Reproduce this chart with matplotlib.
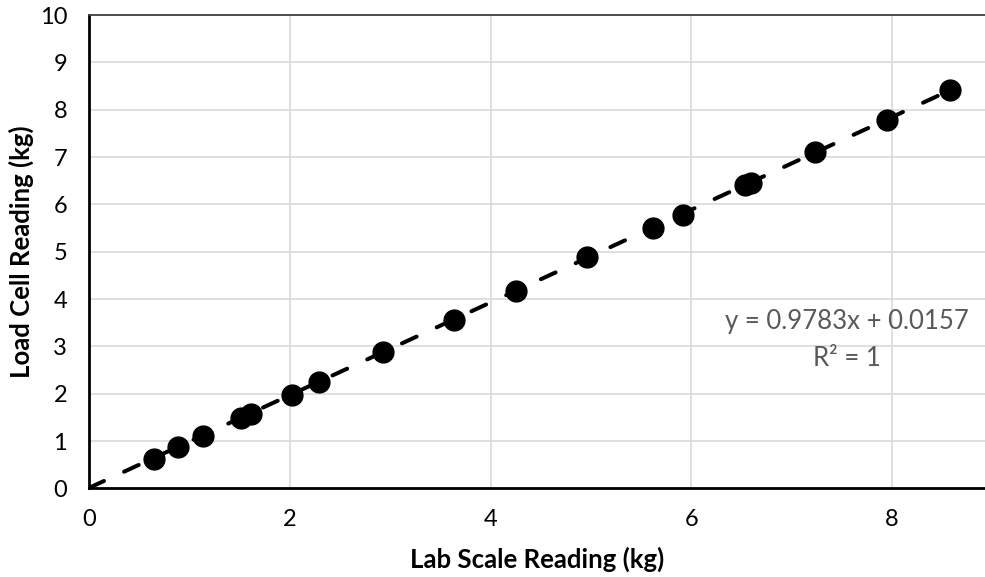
import numpy as np
import matplotlib
matplotlib.use("Agg")
import matplotlib.pyplot as plt

plt.rcParams['font.family'] = ['Lato', 'DejaVu Sans']

# lab scale vs load cell calibration readings (kg)
lab_scale = [0.64, 0.88, 1.13, 1.51, 1.61, 2.02, 2.29, 2.93, 3.64, 4.25,
             4.96, 5.62, 5.92, 6.54, 6.60, 7.24, 7.95, 8.58]
load_cell = [0.62, 0.87, 1.11, 1.49, 1.58, 1.97, 2.25, 2.88, 3.56, 4.18,
             4.88, 5.50, 5.78, 6.40, 6.46, 7.10, 7.79, 8.41]

# linear trendline
slope = 0.9783
intercept = 0.0157
r_squared = 1

x_ticks = [0, 2, 4, 6, 8]
y_ticks = list(range(0, 11))

fig = plt.figure(figsize=(9.85, 5.77), dpi=100)
ax = fig.add_axes([0.0907, 0.1534, 0.9093, 0.8206])

# trendline from 0 out to the last reading
x_fit = np.array([0, max(lab_scale)])
y_fit = slope * x_fit + intercept
ax.plot(x_fit, y_fit, color='black', linewidth=2.9, dash_capstyle='round',
        dashes=(4.0, 5.5), zorder=3)

ax.plot(lab_scale, load_cell, 'o', color='black', markersize=15, zorder=4)

ax.text(7.55, 3.52, f"y = {slope}x + {intercept}", color='#595959',
        fontsize=18.5, ha='center', va='center')
ax.text(7.55, 2.75, f"R² = {r_squared}", color='#595959',
        fontsize=18.5, ha='center', va='center')

ax.set_xlim(0, 8.93)
ax.set_ylim(0, 10)
ax.set_xticks(x_ticks)
ax.set_yticks(y_ticks)
ax.grid(True, color='#d9d9d9', linewidth=1.2)
ax.set_axisbelow(True)

ax.tick_params(length=0, labelsize=17, colors='black')
ax.tick_params(axis='x', pad=15)
ax.tick_params(axis='y', pad=16)

for side in ['left', 'bottom']:
    ax.spines[side].set_color('black')
    ax.spines[side].set_linewidth(2)
ax.spines['top'].set_color('#404040')
ax.spines['top'].set_linewidth(1.3)
ax.spines['right'].set_visible(False)

ax.set_xlabel('Lab Scale Reading (kg)', fontsize=18.5, fontweight='bold')
ax.set_ylabel('Load Cell Reading (kg)', fontsize=18.5, fontweight='bold')
ax.xaxis.set_label_coords(0.5, -0.122)
ax.yaxis.set_label_coords(-0.062, 0.5)

fig.savefig('out.png', dpi=100)
